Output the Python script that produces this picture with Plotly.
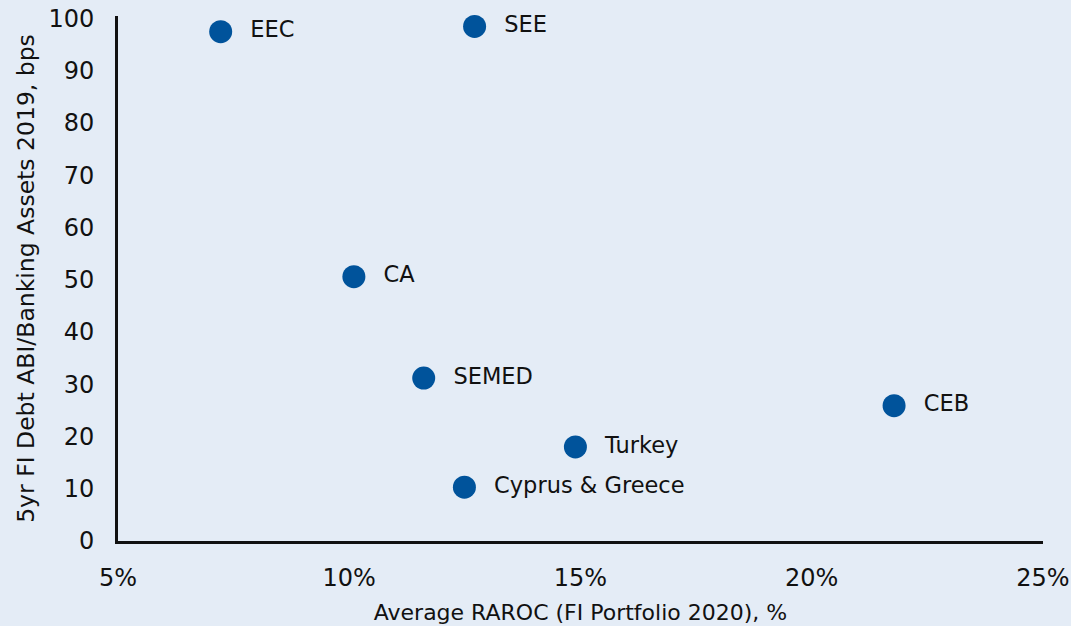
import plotly.graph_objects as go

regions = ["EEC", "SEE", "CA", "SEMED", "CEB", "Turkey", "Cyprus & Greece"]
raroc = [7.22, 12.71, 10.10, 11.61, 21.78, 14.89, 12.49]
debt_bps = [97.5, 98.5, 50.6, 31.2, 25.9, 18.0, 10.3]

x_ticks = [5, 10, 15, 20, 25]
x_tick_labels = ["5%", "10%", "15%", "20%", "25%"]
y_ticks = [0, 10, 20, 30, 40, 50, 60, 70, 80, 90, 100]

bg = "#e4ecf6"
font_family = "DejaVu Sans, sans-serif"

fig = go.Figure()
fig.add_trace(go.Scatter(
    x=raroc, y=debt_bps, mode="markers+text",
    text=["  " + r for r in regions], textposition="middle right",
    textfont=dict(size=22.5, color="#111111", family=font_family),
    marker=dict(size=23, color="#00539b", line=dict(width=0)),
    hoverinfo="skip", cliponaxis=False,
))

fig.update_layout(
    width=1071, height=626,
    paper_bgcolor=bg, plot_bgcolor=bg,
    margin=dict(l=118, r=28, t=16, b=85, autoexpand=False),
    showlegend=False,
    font=dict(family=font_family, size=24, color="#111111"),
    xaxis=dict(
        range=[5, 25], tickvals=x_ticks, ticktext=x_tick_labels,
        showgrid=False, zeroline=False, showline=True, linecolor="#111111", linewidth=3,
        ticks="", ticklabelstandoff=13, automargin=False,
        title=dict(text="Average RAROC (FI Portfolio 2020), %", font=dict(size=22), standoff=14),
    ),
    yaxis=dict(
        range=[0, 100.5], tickvals=y_ticks,
        showgrid=False, zeroline=False, showline=True, linecolor="#111111", linewidth=3,
        ticks="", ticklabelstandoff=16, automargin=False,
        title=dict(text="5yr FI Debt ABI/Banking Assets 2019, bps", font=dict(size=23.5), standoff=8),
    ),
)

fig.write_html("out.html", config={"displayModeBar": False},
               post_script="document.body.style.margin='0';")
